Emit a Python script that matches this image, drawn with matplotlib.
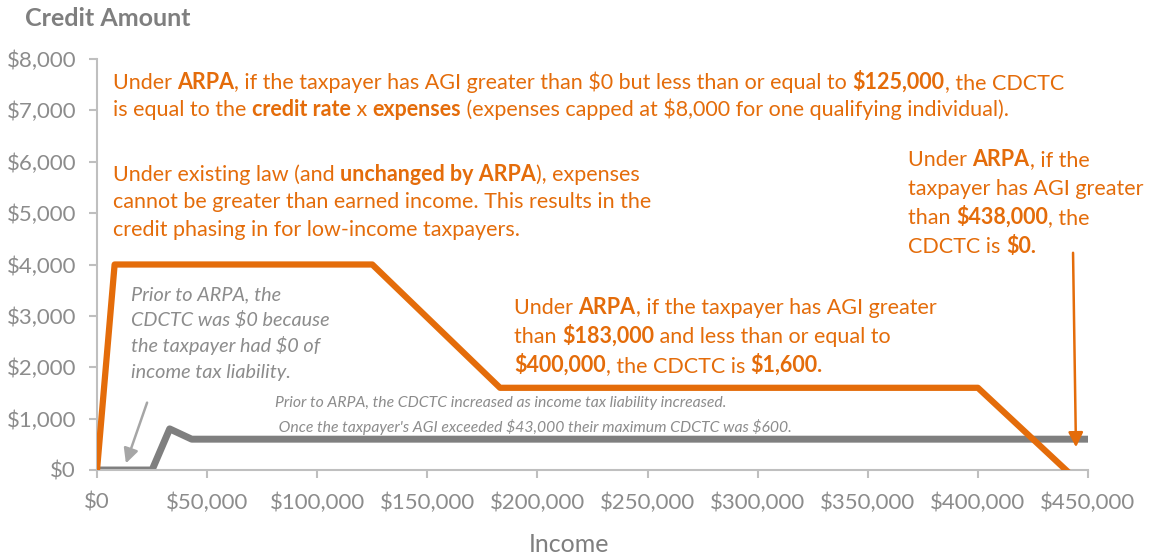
import matplotlib
matplotlib.use("Agg")
import matplotlib.pyplot as plt
from matplotlib.ticker import FuncFormatter

plt.rcParams['font.family'] = ['Lato', 'DejaVu Sans']
plt.rcParams['text.parse_math'] = False

# orange line: credit under ARPA
arpa_income = [0, 8000, 125000, 183000, 400000, 440000]
arpa_credit = [0, 4000, 4000, 1600, 1600, 0]

# gray line: credit prior to ARPA
prior_income = [0, 25000, 33000, 43000, 450000]
prior_credit = [0, 0, 800, 600, 600]

ORANGE = '#E46C0A'
GRAY = '#7F7F7F'
TXT_GRAY = '#8C8C8C'
W, H = 1154, 556

fig = plt.figure(figsize=(W / 100, H / 100), dpi=100)
ax = fig.add_axes([97 / W, 1 - 470 / H, (1088 - 97) / W, (470 - 59) / H])

ax.plot(prior_income, prior_credit, color=GRAY, lw=5, solid_capstyle='round', zorder=2)
ax.plot(arpa_income, arpa_credit, color=ORANGE, lw=4.5, zorder=3)

ax.set_xlim(0, 450000)
ax.set_ylim(0, 8000)
ax.set_xticks(range(0, 450001, 50000))
ax.set_yticks(range(0, 8001, 1000))
money = FuncFormatter(lambda v, p: '${:,.0f}'.format(v))
ax.xaxis.set_major_formatter(money)
ax.yaxis.set_major_formatter(money)
for s in ['top', 'right']:
    ax.spines[s].set_visible(False)
for s in ['left', 'bottom']:
    ax.spines[s].set_color('#BFBFBF')
    ax.spines[s].set_linewidth(1.5)
ax.tick_params(colors='#BFBFBF', labelcolor='#8C8C8C', labelsize=16, width=1.5, length=6)
ax.tick_params(axis='x', pad=10)
ax.tick_params(axis='y', pad=9)
fig.text(569 / W, 1 - 545 / H, 'Income', fontsize=18, color='#7F7F7F', ha='center', va='center')
fig.text(25 / W, 1 - 19 / H, 'Credit Amount', fontsize=18, fontweight='bold', color='#7F7F7F', va='center')


def rich_line(x, y, parts, color, size, style='normal'):
    # parts: list of (text, bold)
    prev = None
    for txt, bold in parts:
        w = 'bold' if bold else 'normal'
        if prev is None:
            prev = fig.text(x / W, 1 - y / H, txt, fontsize=size, color=color,
                            fontweight=w, style=style, va='baseline')
        else:
            prev = ax.annotate(txt, xy=(1, 0), xycoords=prev, va='bottom',
                               fontsize=size, color=color, fontweight=w, style=style)


fs = 15.5
rich_line(113, 89, [('Under ', 0), ('ARPA', 1), (', if the taxpayer has AGI greater than $0 but less than or equal to ', 0),
                    ('$125,000', 1), (', the CDCTC', 0)], ORANGE, fs)
rich_line(113, 116, [('is equal to the ', 0), ('credit rate', 1), (' x ', 0), ('expenses', 1),
                     (' (expenses capped at $8,000 for one qualifying individual).', 0)], ORANGE, fs)

rich_line(113, 181, [('Under existing law (and ', 0), ('unchanged by ARPA', 1), ('), expenses', 0)], ORANGE, fs)
rich_line(113, 208, [('cannot be greater than earned income. This results in the', 0)], ORANGE, fs)
rich_line(113, 236, [('credit phasing in for low-income taxpayers.', 0)], ORANGE, fs)

rich_line(908, 166, [('Under ', 0), ('ARPA', 1), (', if the', 0)], ORANGE, fs)
rich_line(908, 195, [('taxpayer has AGI greater', 0)], ORANGE, fs)
rich_line(908, 224, [('than ', 0), ('$438,000', 1), (', the', 0)], ORANGE, fs)
rich_line(908, 253, [('CDCTC is ', 0), ('$0.', 1)], ORANGE, fs)

rich_line(514, 314, [('Under ', 0), ('ARPA', 1), (', if the taxpayer has AGI greater', 0)], ORANGE, fs)
rich_line(514, 343, [('than ', 0), ('$183,000', 1), (' and less than or equal to', 0)], ORANGE, fs)
rich_line(514, 372, [('$400,000', 1), (', the CDCTC is ', 0), ('$1,600.', 1)], ORANGE, fs)

for i, line in enumerate(['Prior to ARPA, the', 'CDCTC was $0 because',
                          'the taxpayer had $0 of', 'income tax liability.']):
    rich_line(131, 300 + 26 * i, [(line, 0)], TXT_GRAY, 14.3, 'italic')
gs = 11.3
rich_line(275, 407, [('Prior to ARPA, the CDCTC increased as income tax liability increased.', 0)], TXT_GRAY, gs, 'italic')
rich_line(275, 432, [(" Once the taxpayer's AGI exceeded $43,000 their maximum CDCTC was $600.", 0)], TXT_GRAY, gs, 'italic')

# arrows
ax.annotate('', xy=(125 / W, 1 - 466 / H), xycoords='figure fraction',
            xytext=(148 / W, 1 - 400 / H), textcoords='figure fraction',
            arrowprops=dict(arrowstyle='-|>', color='#A6A6A6', lw=1.8, mutation_scale=22))
ax.annotate('', xy=(1076 / W, 1 - 450 / H), xycoords='figure fraction',
            xytext=(1073 / W, 1 - 250 / H), textcoords='figure fraction',
            arrowprops=dict(arrowstyle='-|>', color=ORANGE, lw=1.8, mutation_scale=22))

fig.savefig('out.png', dpi=100)
